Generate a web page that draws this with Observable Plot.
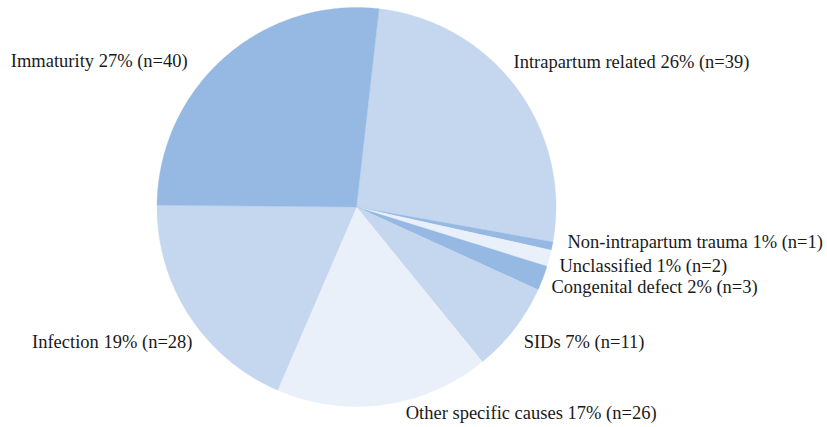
<!DOCTYPE html>
<html>
<head>
<meta charset="utf-8">
<script src="https://cdn.jsdelivr.net/npm/d3@7"></script>
<script src="https://cdn.jsdelivr.net/npm/@observablehq/plot@0.6"></script>
<style>
  html, body { margin: 0; padding: 0; background: #fff; }
</style>
</head>
<body>
<div id="chart"></div>
<script>
// ---- data ----
const categories = ["Intrapartum related", "Non-intrapartum trauma", "Unclassified", "Congenital defect", "SIDs", "Other specific causes", "Infection", "Immaturity"];
const counts = [39, 1, 2, 3, 11, 26, 28, 40];
const percents = [26, 1, 1, 2, 7, 17, 19, 27];

// ---- styles / layout ----
const palette = ["#c5d6ef", "#95b9e3", "#eaf0f9", "#95b9e3", "#c5d6ef", "#eaf0f9", "#c5d6ef", "#95b9e3"];
// label nudges (px) from the default radial label spot
const nudgeX = [-13.4, 2.6, -2.4, -3.5, -1, 20, 14, -28];
const nudgeY = [-17.5, -7, 4, 4.7, 5.6, -4, 19.5, 13.7];

const W = 827, H = 427;
const cx = 356, cy = 206.5;      // pie centre in px
const R = 199.5;                 // radius in px
const startDeg = 6.5;            // clockwise from 12 o'clock

const total = d3.sum(counts);
const slices = [];
const labels = [];
let acc = startDeg * Math.PI / 180;
categories.forEach((cat, i) => {
  const a0 = acc, a1 = acc + counts[i] / total * 2 * Math.PI;
  acc = a1;
  slices.push({cat, x: 0, y: 0});
  const n = Math.max(2, Math.ceil((a1 - a0) / (Math.PI / 360)));
  for (let k = 0; k <= n; k++) {
    const a = a0 + (a1 - a0) * k / n;
    slices.push({cat, x: R * Math.sin(a), y: -R * Math.cos(a)});
  }
  slices.push({cat, x: 0, y: 0});
  const am = (a0 + a1) / 2;
  const rl = R + 13;
  labels.push({
    cat,
    text: `${cat} ${percents[i]}% (n=${counts[i]})`,
    x: rl * Math.sin(am) + nudgeX[i],
    y: -rl * Math.cos(am) + nudgeY[i],
    right: Math.sin(am) >= 0
  });
});

const font = "Liberation Serif";
const fs = 18.5;
const chart = Plot.plot({
  width: W,
  height: H,
  margin: 0,
  x: {domain: [-cx, W - cx], range: [0, W], axis: null},
  y: {domain: [-cy, H - cy], range: [0, H], axis: null},
  color: {domain: categories, range: palette},
  style: {fontFamily: font, background: "#fff"},
  marks: [
    Plot.line(slices, {x: "x", y: "y", z: "cat", fill: "cat", stroke: "cat", strokeWidth: 0.3, curve: "linear"}),
    Plot.text(labels.filter(d => d.right), {x: "x", y: "y", text: "text", textAnchor: "start", fontSize: fs, fill: "#1a1a1a"}),
    Plot.text(labels.filter(d => !d.right), {x: "x", y: "y", text: "text", textAnchor: "end", fontSize: fs, fill: "#1a1a1a"})
  ]
});
document.getElementById("chart").appendChild(chart);
</script>
</body>
</html>
